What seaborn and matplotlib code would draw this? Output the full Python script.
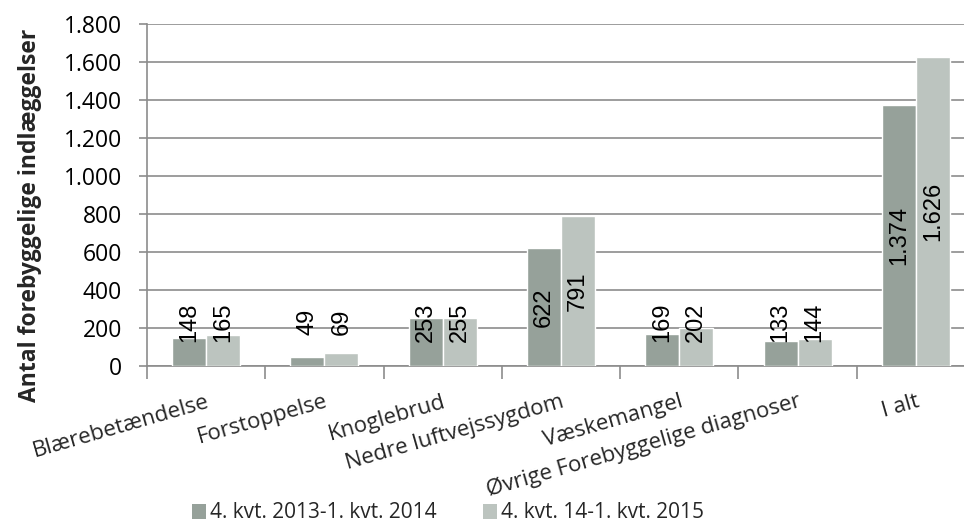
import matplotlib
matplotlib.use("Agg")
import matplotlib.pyplot as plt
import seaborn as sns
import pandas as pd
import numpy as np
from matplotlib.patches import Patch

categories = ["Blærebetændelse", "Forstoppelse", "Knoglebrud", "Nedre luftvejssygdom",
              "Væskemangel", "Øvrige Forebyggelige diagnoser", "I alt"]
series_names = ["4. kvt. 2013-1. kvt. 2014", "4. kvt. 14-1. kvt. 2015"]
values_2014 = [148, 49, 253, 622, 169, 133, 1374]
values_2015 = [165, 69, 255, 791, 202, 144, 1626]
colors = ["#96a19a", "#bcc4bf"]
yticks = [0, 200, 400, 600, 800, 1000, 1200, 1400, 1600, 1800]
ylabel = "Antal forebyggelige indlæggelser"

sns.set_theme(style="white")
plt.rcParams["font.family"] = ["Open Sans", "DejaVu Sans"]

df = pd.DataFrame({
    "Kategori": categories * 2,
    "Serie": [series_names[0]] * len(categories) + [series_names[1]] * len(categories),
    "Antal": values_2014 + values_2015,
})

fig = plt.figure(figsize=(9.64, 5.28), dpi=100)
ax = fig.add_axes([147 / 964, 162 / 528, 828 / 964, 342 / 528])

sns.barplot(data=df, x="Kategori", y="Antal", hue="Serie", palette=colors,
            width=0.575, ax=ax, saturation=1, legend=False, zorder=3)

ax.set_xlim(-0.5, len(categories) - 0.5)
ax.set_ylim(0, 1800)
ax.set_yticks(yticks)
ax.set_yticklabels([f"{v:,}".replace(",", ".") for v in yticks], fontsize=16.5)
ax.yaxis.grid(True, color="#8c8c8c", linewidth=1.2, zorder=0)
ax.set_axisbelow(True)

for s in ["top", "right"]:
    ax.spines[s].set_visible(False)
for s in ["left", "bottom"]:
    ax.spines[s].set_color("#8c8c8c")
    ax.spines[s].set_linewidth(1.2)

ax.tick_params(axis="y", which="major", direction="out", length=6, width=1.2,
               color="#8c8c8c", left=True, pad=12, labelcolor="black")

ax.set_xticks(range(len(categories)))
ax.set_xticklabels(categories, rotation=16, ha="right", va="top",
                   rotation_mode="anchor", fontsize=16)
ax.tick_params(axis="x", which="major", length=0, pad=18)
ax.set_xticks(np.arange(-0.5, len(categories), 1.0), minor=True)
ax.tick_params(axis="x", which="minor", direction="out", length=9, width=1.2,
               color="#8c8c8c", bottom=True)
ax.set_xlabel("")

ax.set_ylabel(ylabel, fontsize=16.5, fontweight="bold")
ax.yaxis.set_label_coords(-0.127, 0.44)

for container in ax.containers:
    for bar in container:
        h = bar.get_height()
        xc = bar.get_x() + bar.get_width() / 2
        yc = max(h / 2, 230)
        ax.text(xc, yc, f"{int(round(h)):,}".replace(",", "."), rotation=90,
                ha="center", va="center", fontsize=17,
                family=["Liberation Sans", "DejaVu Sans"], color="black", zorder=5)

handles = [Patch(facecolor=c, edgecolor="none") for c in colors]
fig.legend(handles, series_names, loc="center", bbox_to_anchor=(448 / 964, 1 - 513 / 528),
           ncol=2, frameon=False, fontsize=15, handlelength=0.7, handleheight=0.7,
           handletextpad=0.2, columnspacing=2.2)

fig.savefig("out.png", dpi=100)
